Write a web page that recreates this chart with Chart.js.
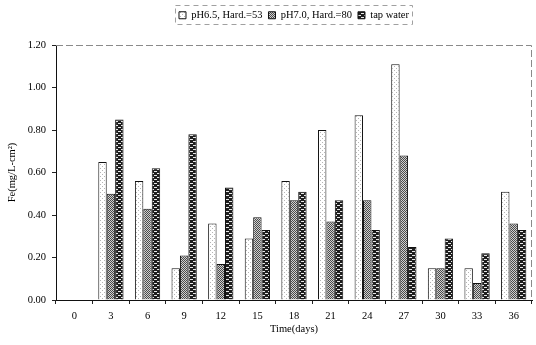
<!DOCTYPE html>
<html lang="en">

<head>
    <meta charset="UTF-8">
    <title>Fe release</title>
    <style>
        html, body { margin: 0; padding: 0; background: #fff; }
        #wrap { width: 536px; height: 345px; }
    </style>
</head>

<body>
    <div id="wrap">
        <canvas id="myChart01"></canvas>
    </div>
</body>
<script src="https://cdn.jsdelivr.net/npm/chart.js"></script>
<script>
    // data
    var days = ['0', '3', '6', '9', '12', '15', '18', '21', '24', '27', '30', '33', '36'];
    var ph65 = [0, 0.65, 0.56, 0.15, 0.36, 0.29, 0.56, 0.80, 0.87, 1.11, 0.15, 0.15, 0.51];
    var ph70 = [0, 0.50, 0.43, 0.21, 0.17, 0.39, 0.47, 0.37, 0.47, 0.68, 0.15, 0.08, 0.36];
    var tap = [0, 0.85, 0.62, 0.78, 0.53, 0.33, 0.51, 0.47, 0.33, 0.25, 0.29, 0.22, 0.33];
    var yTicks = [0, 0.2, 0.4, 0.6, 0.8, 1.0, 1.2];

    // small fill patterns
    function makePattern(w, h, bg, fg, pts) {
        var c = document.createElement('canvas');
        c.width = w;
        c.height = h;
        var g = c.getContext('2d');
        g.fillStyle = bg;
        g.fillRect(0, 0, w, h);
        g.fillStyle = fg;
        pts.forEach(function (p) {
            g.fillRect(p[0], p[1], p[2] || 1, 1);
        });
        return g.createPattern(c, 'repeat');
    }
    var dotFill = makePattern(4, 4, '#ffffff', '#b5b5b5', [[0, 0], [2, 2]]);
    var hatchFill = makePattern(2, 2, '#d0d0d0', '#4a4a4a', [[0, 0], [1, 1]]);
    var brickFill = makePattern(6, 4, '#1e1e1e', '#e8e8e8', [[1, 1, 3], [4, 3, 2], [0, 3, 1]]);

    // dashed frame on top/right and round the legend
    var framePlugin = {
        id: 'frame',
        beforeInit: function (chart) {
            // keep the legend block tall so the plot starts lower
            var lg = chart.legend;
            var fit = lg.fit;
            lg.fit = function () {
                fit.call(this);
                this.height = 41;
            };
        },
        afterLayout: function (chart) {
            var lg = chart.legend;
            lg.left = chart.chartArea.left;
            lg.right = chart.chartArea.right;
        },
        afterDraw: function (chart) {
            var ctx = chart.ctx;
            var a = chart.chartArea;
            ctx.save();
            ctx.strokeStyle = '#8a8a8a';
            ctx.lineWidth = 1;
            ctx.setLineDash([7, 3]);
            ctx.beginPath();
            ctx.moveTo(a.left, a.top + 0.5);
            ctx.lineTo(a.right - 0.5, a.top + 0.5);
            ctx.lineTo(a.right - 0.5, a.bottom);
            ctx.stroke();
            var boxes = chart.legend.legendHitBoxes;
            if (boxes && boxes.length) {
                var x0 = boxes[0].left - 4;
                var last = boxes[boxes.length - 1];
                var x1 = last.left + last.width + 3;
                ctx.strokeStyle = '#a0a0a0';
                ctx.setLineDash([5, 4]);
                ctx.strokeRect(x0 + 0.5, 5.5, x1 - x0, 19);
            }
            ctx.restore();
        }
    };

    Chart.defaults.font.family = "'Liberation Serif', 'Times New Roman', serif";
    Chart.defaults.color = '#111';

    var ctx01 = document.getElementById('myChart01');
    var mychart01 = new Chart(ctx01, {
        type: 'bar',
        data: {
            labels: days,
            datasets: [{
                label: 'pH6.5, Hard.=53',
                data: ph65,
                backgroundColor: dotFill
            }, {
                label: 'pH7.0, Hard.=80',
                data: ph70,
                backgroundColor: hatchFill
            }, {
                label: 'tap water',
                data: tap,
                backgroundColor: brickFill
            }]
        },
        options: {
            responsive: true,
            maintainAspectRatio: false,
            animation: false,
            layout: {
                padding: { left: 0, right: 4, top: 4, bottom: 0 }
            },
            datasets: {
                bar: {
                    borderColor: '#111',
                    borderWidth: 1,
                    borderSkipped: 'start',
                    categoryPercentage: 0.69,
                    barPercentage: 1
                }
            },
            plugins: {
                legend: {
                    position: 'top',
                    labels: {
                        boxWidth: 7,
                        boxHeight: 7,
                        padding: 6,
                        color: '#000',
                        font: { size: 10.5 }
                    }
                },
                tooltip: { enabled: false }
            },
            scales: {
                x: {
                    grid: {
                        display: true,
                        drawOnChartArea: false,
                        offset: true,
                        tickLength: 4,
                        color: '#222'
                    },
                    border: { color: '#111', width: 1 },
                    ticks: {
                        padding: 6,
                        maxRotation: 0,
                        color: '#000',
                        font: { size: 10.5 }
                    },
                    title: {
                        display: true,
                        text: 'Time(days)',
                        color: '#000',
                        font: { size: 10.5 },
                        padding: { top: 0, bottom: 9 }
                    },
                    afterFit: function (scale) {
                        scale.height = 45;
                    }
                },
                y: {
                    min: 0,
                    max: 1.2,
                    afterBuildTicks: function (scale) {
                        scale.ticks = yTicks.map(function (v) { return { value: v }; });
                    },
                    grid: {
                        display: true,
                        drawOnChartArea: false,
                        tickLength: 4,
                        color: '#222'
                    },
                    border: { color: '#111', width: 1 },
                    ticks: {
                        padding: 6,
                        color: '#000',
                        font: { size: 10.5 },
                        callback: function (v) { return Number(v).toFixed(2); }
                    },
                    title: {
                        display: true,
                        text: 'Fe(mg/L-cm²)',
                        color: '#000',
                        font: { size: 10.5 },
                        padding: { top: 6, bottom: 0 }
                    },
                    afterFit: function (scale) {
                        scale.width = 56;
                    }
                }
            }
        },
        plugins: [framePlugin]
    });
</script>

</html>
